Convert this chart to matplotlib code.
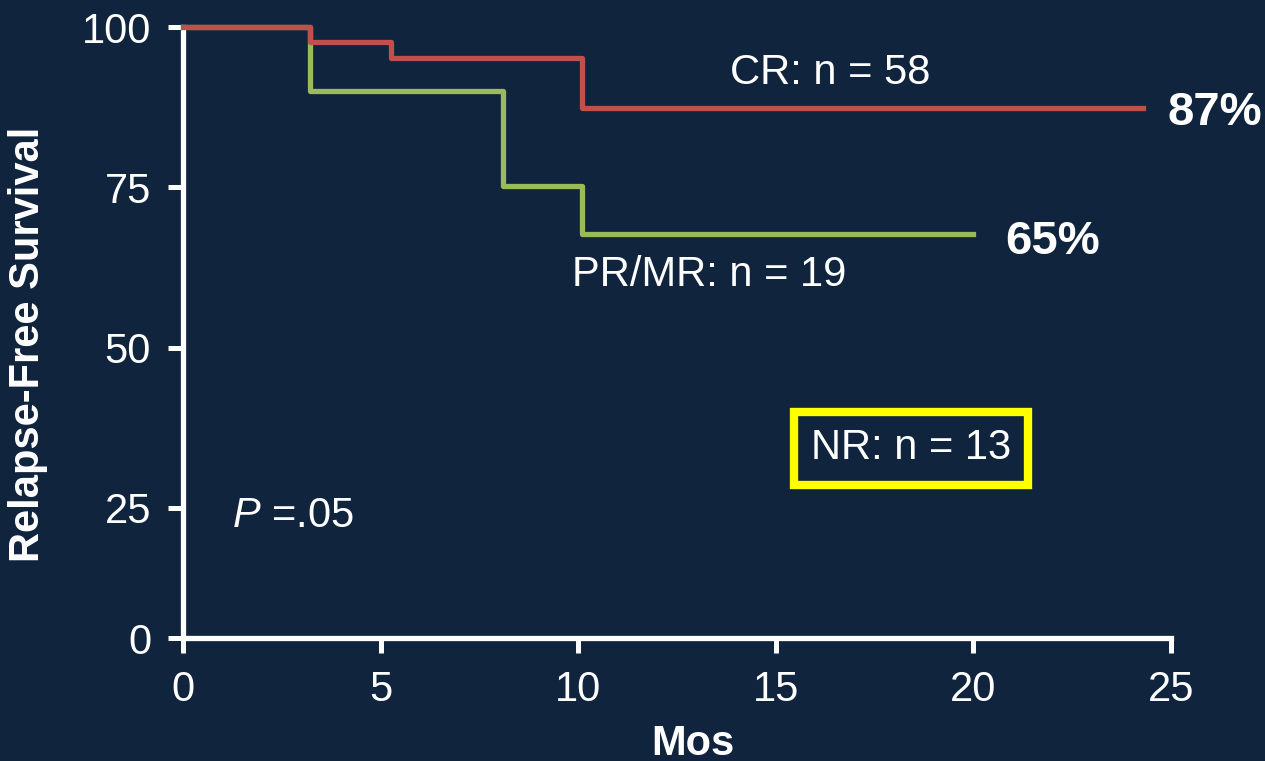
import matplotlib
matplotlib.use("Agg")
import matplotlib.pyplot as plt

BG = "#10243e"
RED = "#c0504d"
GREEN = "#9bbb59"

# Kaplan-Meier style step data (months, % relapse-free)
cr_months = [0, 3.2, 5.25, 10.1, 24.3]
cr_surv = [100, 97.6, 95.1, 87.4, 87.4]

pr_months = [0, 3.2, 8.1, 10.1, 20.0]
pr_surv = [100, 90.0, 75.2, 67.7, 67.7]

x_ticks = [0, 5, 10, 15, 20, 25]
# the original axis puts "0" on the x axis, a bit above true zero
y_floor = 4.7
y_ticks = [y_floor, 25, 50, 75, 100]
y_tick_labels = ["0", "25", "50", "75", "100"]

plt.rcParams["font.family"] = ["Liberation Sans", "DejaVu Sans"]
plt.rcParams["mathtext.fontset"] = "custom"
plt.rcParams["mathtext.rm"] = "Liberation Sans"
plt.rcParams["mathtext.it"] = "Liberation Sans:italic"

fig = plt.figure(figsize=(12.65, 7.61), dpi=100, facecolor=BG)
ax = fig.add_axes([0.1447, 0.1616, 0.781, 0.8029])
ax.set_facecolor(BG)

ax.step(pr_months, pr_surv, where="post", color=GREEN, lw=3.8, clip_on=False, zorder=3)
ax.step(cr_months, cr_surv, where="post", color=RED, lw=3.8, clip_on=False, zorder=4)

ax.set_xlim(0, 25)
ax.set_ylim(y_floor, 100)
ax.set_xticks(x_ticks)
ax.set_yticks(y_ticks)
ax.set_yticklabels(y_tick_labels)

for side in ["top", "right"]:
    ax.spines[side].set_visible(False)
for side in ["left", "bottom"]:
    ax.spines[side].set_color("white")
    ax.spines[side].set_linewidth(3.8)

ax.tick_params(axis="both", colors="white", labelsize=30, width=3.6, length=11, pad=12)

ax.set_xlabel("Mos", fontsize=30, fontweight="bold", color="white")
ax.xaxis.set_label_coords(0.516, -0.141)
ax.set_ylabel("Relapse-Free Survival", fontsize=30, fontweight="bold", color="white")
ax.yaxis.set_label_coords(-0.157, 0.481)
ax.yaxis.label.set_va("center")

ax.text(16.37, 92.8, "CR: n = 58", fontsize=30, color="white", ha="center", va="center")
ax.text(13.31, 61.3, "PR/MR: n = 19", fontsize=30, color="white", ha="center", va="center")
ax.text(24.92, 86.6, "87%", fontsize=34, fontweight="bold", color="white",
        ha="left", va="center", clip_on=False)
ax.text(20.8, 66.4, "65%", fontsize=34, fontweight="bold", color="white",
        ha="left", va="center")
ax.text(18.42, 34.3, "NR: n = 13", fontsize=30, color="white", ha="center", va="center",
        bbox=dict(boxstyle="square,pad=0.4", facecolor="none", edgecolor="#ffff00", lw=6))
ax.text(1.24, 23.8, r"$P$ =.05", fontsize=30, color="white", ha="left", va="center")

fig.savefig("out.png", dpi=100, facecolor=BG)
